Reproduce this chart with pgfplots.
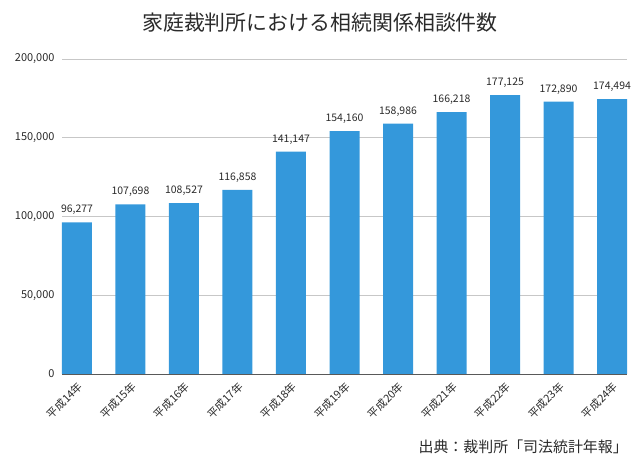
\documentclass[border=0pt]{standalone}
\usepackage{fontspec}
\setmainfont{Noto Sans CJK JP}
\usepackage{pgfplots}
\pgfplotsset{compat=1.18}
\definecolor{barblue}{HTML}{3498DB}
\definecolor{txt}{HTML}{2A2A2A}
\begin{document}
\begin{tikzpicture}
\useasboundingbox (0,0) rectangle (640bp,460bp);
\begin{axis}[
  at={(62bp,86bp)}, anchor=south west,
  scale only axis, width=565bp, height=315bp,
  xmin=-0.28, xmax=10.28, ymin=0, ymax=200000,
  ytick={0,50000,100000,150000,200000},
  scaled y ticks=false,
  /pgf/number format/.cd, fixed, precision=0, 1000 sep={,}, assume math mode=true, /pgfplots/.cd,
  ymajorgrids, grid style={draw=black!22, line width=0.6pt},
  axis x line*=bottom, axis y line*=left,
  y axis line style={draw=none},
  x axis line style={draw=black!65, line width=0.6pt},
  major tick length=0pt,
  xtick={0,...,10},
  xticklabels={平成14年,平成15年,平成16年,平成17年,平成18年,平成19年,平成20年,平成21年,平成22年,平成23年,平成24年},
  xticklabel style={font=\fontsize{11}{12}\selectfont, text=txt, xshift=6bp, yshift=-8bp, rotate=45, anchor=east},
  yticklabel style={font=\fontsize{11}{12}\selectfont, text=txt, xshift=-4bp},
  ybar, bar width=30bp,
  nodes near coords,
  every node near coord/.append style={font=\fontsize{10.5}{12}\selectfont, text=txt, yshift=4bp},
  clip=false,
]
\addplot[fill=barblue, draw=none] coordinates {
 (0,96277) (1,107698) (2,108527) (3,116858) (4,141147) (5,154160)
 (6,158986) (7,166218) (8,177125) (9,172890) (10,174494)};
\end{axis}
\node[font=\fontsize{21}{24}\selectfont, text=txt] at (320bp,437bp) {家庭裁判所における相続関係相談件数};
\node[font=\fontsize{15}{18}\selectfont, text=txt, anchor=east, inner sep=0pt] at (628bp,13bp) {出典：裁判所「司法統計年報」};
\end{tikzpicture}
\end{document}
